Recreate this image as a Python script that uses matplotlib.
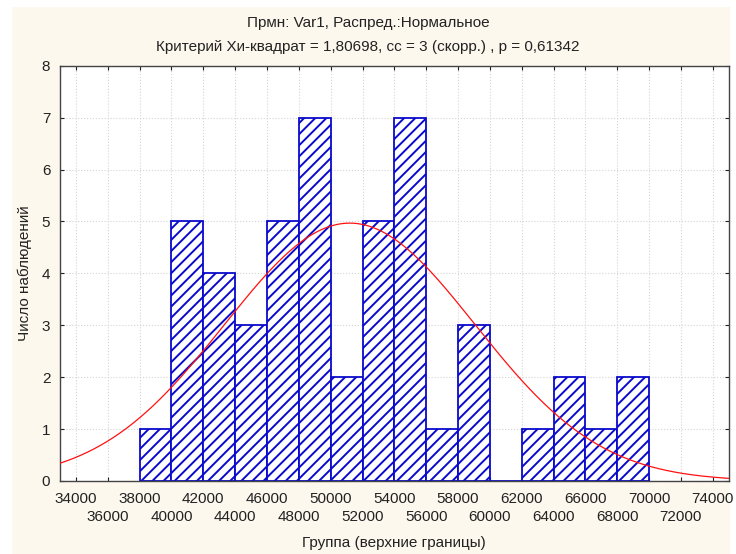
import numpy as np
import matplotlib
matplotlib.use("Agg")
import matplotlib.pyplot as plt
from matplotlib.patches import Rectangle

# Data
bin_upper = [40000, 42000, 44000, 46000, 48000, 50000, 52000, 54000,
             56000, 58000, 60000, 62000, 64000, 66000, 68000, 70000]
counts = [1, 5, 4, 3, 5, 7, 2, 5, 7, 1, 3, 0, 1, 2, 1, 2]
bin_width = 2000
fit_mean = 51200
fit_sd = 7870
top_row_ticks = list(range(34000, 76000, 4000))
bottom_row_ticks = list(range(36000, 74000, 4000))
title_lines = ["Прмн: Var1, Распред.:Нормальное",
               "Критерий Хи-квадрат = 1,80698, сс = 3 (скорр.) , p = 0,61342"]
xlabel = "Группа (верхние границы)"
ylabel = "Число наблюдений"

plt.rcParams['font.family'] = ['Liberation Sans', 'DejaVu Sans']
plt.rcParams['hatch.linewidth'] = 1.4
plt.rcParams['hatch.color'] = '#1414ee'

fig = plt.figure(figsize=(7.36, 5.54), dpi=100)
fig.patch.set_facecolor('white')
fig.patches.append(Rectangle((12/736, 0), (730-12)/736, (554-7)/554,
                             transform=fig.transFigure, facecolor='#fdf8ee',
                             edgecolor='none', zorder=-10))

ax = fig.add_axes([60/736, 1-481/554, (728.7-60)/736, (481-65.7)/554])
ax.set_facecolor('white')

lefts = np.array(bin_upper) - bin_width
ax.bar(lefts, counts, width=bin_width, align='edge', facecolor='white',
       edgecolor='#0a0acc', linewidth=1.3, hatch='///', zorder=2)

total = sum(counts)
xs = np.linspace(33000, 75000, 500)
ys = total * bin_width / (fit_sd * np.sqrt(2*np.pi)) * np.exp(-0.5*((xs-fit_mean)/fit_sd)**2)
ax.plot(xs, ys, color='#ff1010', linewidth=0.9, zorder=3)

ax.set_xlim(33000, 75000)
ax.set_ylim(0, 8)
ax.set_xticks(top_row_ticks)
ax.set_xticklabels([str(v) for v in top_row_ticks])
ax.set_xticks(bottom_row_ticks, minor=True)
ax.set_xticklabels([str(v) for v in bottom_row_ticks], minor=True)
ax.set_yticks(range(0, 9))
ax.tick_params(which='both', direction='in', length=3, top=True, right=True,
               labelsize=11, colors='#222222', width=0.8)
ax.tick_params(axis='x', which='major', pad=8)
ax.tick_params(axis='x', which='minor', pad=21)
ax.tick_params(axis='y', pad=7)
ax.grid(True, which='both', linestyle=':', color='#d4d4d4', linewidth=0.8, zorder=0)
ax.set_axisbelow(True)
for s in ax.spines.values():
    s.set_color('#444444')
    s.set_linewidth(1.0)

ax.set_xlabel(xlabel, fontsize=11, color='#222222')
ax.xaxis.set_label_coords(0.5, -(543-481)/415.3)
ax.xaxis.label.set_va('center')
ax.set_ylabel(ylabel, fontsize=11, color='#222222')
ax.yaxis.set_label_coords(-(60-25)/668.7, 0.5)
ax.yaxis.label.set_va('center')

fig.text(0.5, 1-23/554, title_lines[0], ha='center', va='center', fontsize=11, color='#222222')
fig.text(0.5, 1-47/554, title_lines[1], ha='center', va='center', fontsize=11, color='#222222')

fig.savefig("out.png", dpi=100, facecolor=fig.get_facecolor())
